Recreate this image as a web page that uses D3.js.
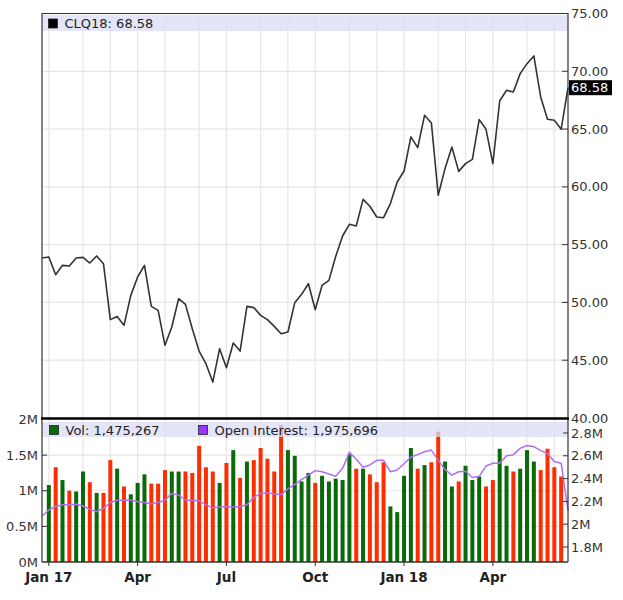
<!DOCTYPE html>
<html>
<head>
<meta charset="utf-8">
<script src="https://cdn.jsdelivr.net/npm/d3@7"></script>
<style>
body{margin:0;background:#fff;}
svg{font-family:"DejaVu Sans",Verdana,sans-serif;}
</style>
</head>
<body>
<svg id="chart" width="623" height="600"></svg>
<script>
// weekly bars, Mondays
const firstWeek=new Date(2016,11,26), lastWeek=new Date(2018,5,18);
const symbol='CLQ18', lastPrice=68.58;
const volText='1,475,267', oiText='1,975,696';

const closes=[53.84,53.93,52.40,53.21,53.15,53.84,53.90,53.41,54.02,53.35,
 48.51,48.79,48.02,50.61,52.20,53.21,49.66,49.31,46.29,47.87,
 50.32,49.83,47.73,45.79,44.70,43.11,46.00,44.35,46.49,45.79,
 49.66,49.55,48.88,48.51,47.93,47.29,47.44,49.98,50.70,51.62,
 49.37,51.48,51.91,53.99,55.75,56.76,56.61,58.92,58.32,57.39,
 57.33,58.55,60.42,61.37,64.32,63.39,66.19,65.53,59.27,61.58,
 63.45,61.34,62.01,62.38,65.82,64.98,62.01,67.43,68.36,68.21,
 69.80,70.66,71.33,67.78,65.85,65.76,64.98,68.58];

// millions, weeks 2..77
const volumes=[1.08,1.33,1.15,1.00,0.99,1.27,1.12,0.97,0.97,1.43,
 1.31,1.06,0.95,1.11,1.23,1.10,1.10,1.29,1.27,1.27,
 1.27,1.25,1.63,1.33,1.27,1.11,1.39,1.57,1.18,1.41,
 1.43,1.60,1.45,1.27,1.92,1.57,1.49,1.13,1.25,1.11,
 1.21,1.13,1.17,1.15,1.51,1.31,1.31,1.23,1.12,1.40,
 0.78,0.70,1.21,1.60,1.31,1.36,1.40,1.83,1.41,1.06,
 1.13,1.35,1.15,1.20,1.06,1.15,1.59,1.35,1.27,1.31,
 1.57,1.41,1.29,1.59,1.33,1.20];

// millions
const openInterest=[2.07,2.125,2.155,2.17,2.17,2.175,2.16,2.13,2.11,2.14,
 2.19,2.21,2.21,2.21,2.20,2.19,2.18,2.19,2.21,2.27,
 2.256,2.21,2.21,2.205,2.17,2.145,2.15,2.155,2.15,2.155,
 2.17,2.235,2.27,2.275,2.265,2.26,2.31,2.35,2.39,2.43,
 2.47,2.46,2.44,2.42,2.49,2.63,2.57,2.50,2.52,2.56,
 2.56,2.46,2.475,2.53,2.59,2.61,2.635,2.65,2.56,2.48,
 2.43,2.46,2.465,2.41,2.42,2.51,2.535,2.535,2.60,2.61,
 2.665,2.69,2.68,2.645,2.62,2.55,2.535,2.12];

const priceTicks=[40,45,50,55,60,65,70,75];
const volTicks=[0,0.5,1,1.5,2];
const volTickLabels=['0M','0.5M','1M','1.5M','2M'];
const oiTicks=[1.8,2,2.2,2.4,2.6,2.8];
const oiTickLabels=['1.8M','2M','2.2M','2.4M','2.6M','2.8M'];
const quarterLabels=['Jan 17','Apr','Jul','Oct','Jan 18','Apr'];

const L=42,R=568,T1=13.5,B1=418,T2=419.5,B2=562;
const svg=d3.select('#chart');
const weeks=d3.timeMonday.range(firstWeek,d3.timeDay.offset(lastWeek,1));
const x=d3.scaleTime().domain([firstWeek,lastWeek]).range([L,R]);
const y=d3.scaleLinear().domain([40,75]).range([B1,T1]);
const yv=d3.scaleLinear().domain([0,2]).range([B2,T2]);
const yo=d3.scaleLinear().domain([1.8,2.8]).range([547,433]);

// first week of each month -> grid
const monthStarts=weeks.filter((d,i)=>i>0&&d.getMonth()!==weeks[i-1].getMonth());
const quarterStarts=monthStarts.filter(d=>d.getMonth()%3===0);

const grid='#e6e6e6';
const gg=svg.append('g').attr('stroke',grid).attr('stroke-width',1.2);
gg.selectAll('.vg').data(monthStarts).enter().append('line')
 .attr('x1',d=>x(d)).attr('x2',d=>x(d)).attr('y1',T1).attr('y2',B2);
gg.selectAll('.hg').data(priceTicks.slice(1,-1)).enter().append('line')
 .attr('x1',L).attr('x2',R).attr('y1',d=>y(d)).attr('y2',d=>y(d));
gg.selectAll('.hv').data(volTicks.slice(1,-1)).enter().append('line')
 .attr('x1',L).attr('x2',R).attr('y1',d=>yv(d)).attr('y2',d=>yv(d));

// price line
svg.append('path').datum(closes).attr('fill','none').attr('stroke','#333')
 .attr('stroke-width',1.6).attr('stroke-linejoin','round')
 .attr('d',d3.line().x((d,i)=>x(weeks[i])).y(d=>y(d)));

// volume bars
svg.append('g').selectAll('rect').data(volumes).enter().append('rect')
 .attr('x',(d,i)=>x(weeks[i+1])-2).attr('width',4)
 .attr('y',d=>yv(d)).attr('height',d=>B2-yv(d))
 .attr('fill',(d,i)=>closes[i+1]>=closes[i]?'#0a6a0a':'#ff2e00');

// open interest
svg.append('path').datum(openInterest).attr('fill','none').attr('stroke','#b070ee')
 .attr('stroke-width',1.5).attr('stroke-linejoin','round')
 .attr('d',d3.line().x((d,i)=>x(weeks[i])).y(d=>yo(d)));

// legend bands
svg.append('rect').attr('x',L).attr('y',15).attr('width',R-L).attr('height',16)
 .attr('fill','#dedef8').attr('opacity',0.8);
svg.append('rect').attr('x',L).attr('y',422).attr('width',R-L).attr('height',15)
 .attr('fill','#dcdcf6').attr('opacity',0.75);

function legendItem(x0,yc,color,text){
 svg.append('rect').attr('x',x0).attr('y',yc-4.5).attr('width',9).attr('height',9)
  .attr('fill',color).attr('stroke','#222').attr('stroke-width',0.8);
 svg.append('text').attr('x',x0+16).attr('y',yc).attr('dy','0.35em')
  .attr('font-size',13).attr('fill','#222').text(text);
}
legendItem(48.5,23.5,'#000',symbol+': '+d3.format('.2f')(lastPrice));
legendItem(49.5,430,'#0a6a0a','Vol: '+volText);
legendItem(198.5,430,'#9933ff','Open Interest: '+oiText);

// frame
svg.append('path').attr('fill','none').attr('stroke','#333').attr('stroke-width',1.2)
 .attr('d',`M${L},${B2}V${T1}H${R}V${B2}`);
svg.append('line').attr('x1',L).attr('x2',R).attr('y1',B2).attr('y2',B2)
 .attr('stroke','#333').attr('stroke-width',1.5);
svg.append('line').attr('x1',L-1).attr('x2',R+1).attr('y1',B1+0.5).attr('y2',B1+0.5)
 .attr('stroke','#000').attr('stroke-width',2.5);

// right price axis
const ra=svg.append('g').attr('font-size',13).attr('fill','#333');
ra.selectAll('line').data(priceTicks.slice(1,-1)).enter().append('line')
 .attr('x1',R-6).attr('x2',R).attr('y1',d=>y(d)).attr('y2',d=>y(d)).attr('stroke','#333');
ra.selectAll('text').data(priceTicks).enter().append('text')
 .attr('x',R+3).attr('y',d=>y(d)).attr('dy','0.35em').text(d=>d3.format('.2f')(d));
svg.append('rect').attr('x',R+1).attr('y',y(lastPrice)-7.5).attr('width',43).attr('height',15).attr('fill','#000');
svg.append('text').attr('x',R+3).attr('y',y(lastPrice)).attr('dy','0.35em')
 .attr('font-size',13).attr('fill','#fff').text(d3.format('.2f')(lastPrice));

// volume axis (left)
const la=svg.append('g').attr('font-size',13).attr('fill','#333');
la.selectAll('line').data(volTicks.slice(1,-1)).enter().append('line')
 .attr('x1',L).attr('x2',L+5).attr('y1',d=>yv(d)).attr('y2',d=>yv(d)).attr('stroke','#333');
la.selectAll('text').data(volTicks).enter().append('text')
 .attr('x',L-4).attr('y',d=>yv(d)).attr('dy','0.35em').attr('text-anchor','end')
 .text((d,i)=>volTickLabels[i]);

// open interest axis (right)
const oa=svg.append('g').attr('font-size',13).attr('fill','#333');
oa.selectAll('line').data(oiTicks).enter().append('line')
 .attr('x1',R-5).attr('x2',R).attr('y1',d=>yo(d)).attr('y2',d=>yo(d)).attr('stroke','#333');
oa.selectAll('text').data(oiTicks).enter().append('text')
 .attr('x',R+3).attr('y',d=>yo(d)).attr('dy','0.35em').text((d,i)=>oiTickLabels[i]);

// time axis
const xa=svg.append('g');
xa.selectAll('line').data(quarterStarts).enter().append('line')
 .attr('x1',d=>x(d)).attr('x2',d=>x(d)).attr('y1',B2).attr('y2',B2+4).attr('stroke','#333');
xa.selectAll('text').data(quarterStarts).enter().append('text')
 .attr('x',d=>x(d)).attr('y',577).attr('dy','0.35em').attr('text-anchor','middle')
 .attr('font-size',13.5).attr('font-weight','bold').attr('fill','#222')
 .text((d,i)=>quarterLabels[i]);
</script>
</body>
</html>
